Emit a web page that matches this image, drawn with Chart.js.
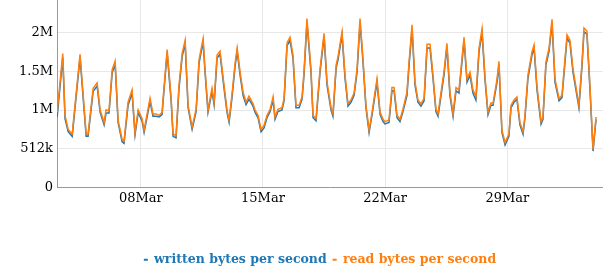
<!DOCTYPE html>
<html><head><meta charset="utf-8">
<script src="https://cdn.jsdelivr.net/npm/chart.js@4/dist/chart.umd.min.js"></script>
<style>html,body{margin:0;padding:0;background:#fff;} canvas{display:block;}</style>
</head><body>
<canvas id="c" width="603" height="270"></canvas>
<script>
// time of each sample, in days of March (fractional)
const times = [3.21,3.53,3.66,3.84,4.07,4.52,4.87,4.98,5.27,5.50,5.67,5.90,6.01,6.18,6.36,6.53,6.70,6.93,7.04,7.27,7.50,7.67,7.85,8.07,8.19,8.53,8.70,8.88,9.05,9.22,9.28,9.51,9.74,9.85,10.02,10.19,10.37,10.54,10.71,10.94,11.17,11.34,11.57,11.68,11.85,12.08,12.20,12.37,12.54,12.77,12.94,13.06,13.23,13.40,13.52,13.69,13.86,14.03,14.20,14.43,14.55,14.72,14.89,15.06,15.23,15.41,15.58,15.69,15.86,16.09,16.21,16.38,16.55,16.72,16.89,17.07,17.24,17.35,17.52,17.75,17.87,18.04,18.27,18.50,18.67,18.90,19.01,19.19,19.30,19.53,19.70,19.87,20.04,20.22,20.39,20.56,20.73,20.90,21.08,21.25,21.53,21.71,21.88,21.99,22.22,22.39,22.51,22.68,22.85,23.02,23.25,23.37,23.54,23.71,23.88,24.05,24.23,24.40,24.57,24.74,24.91,25.03,25.26,25.37,25.54,25.71,25.89,26.06,26.23,26.40,26.52,26.69,26.86,27.03,27.20,27.38,27.55,27.72,27.89,28.06,28.18,28.41,28.52,28.69,28.87,29.09,29.21,29.38,29.55,29.72,29.90,30.01,30.18,30.41,30.53,30.70,30.93,31.04,31.21,31.39,31.56,31.73,31.96,32.13,32.24,32.42,32.59,32.76,32.93,33.10,33.28,33.39,33.56,33.73,33.91,34.08];
// values in MiB per second
const readBps = [0.97,1.73,0.93,0.75,0.69,1.72,0.69,0.69,1.28,1.35,1.0,0.84,1.0,0.99,1.52,1.63,0.87,0.62,0.6,1.1,1.26,0.71,1.0,0.89,0.74,1.15,0.95,0.95,0.93,0.97,1.15,1.78,1.15,0.69,0.67,1.32,1.73,1.9,1.06,0.78,1.01,1.65,1.92,1.53,1.0,1.28,1.1,1.71,1.76,1.32,1.0,0.87,1.21,1.6,1.8,1.49,1.23,1.1,1.18,1.08,1.0,0.93,0.75,0.8,0.93,1.01,1.17,0.91,1.01,1.03,1.15,1.87,1.94,1.71,1.06,1.06,1.17,1.49,2.18,1.53,0.93,0.89,1.53,1.99,1.36,1.03,0.95,1.58,1.69,2.01,1.45,1.08,1.13,1.22,1.53,2.18,1.66,1.06,0.74,0.97,1.4,0.97,0.88,0.85,0.87,1.29,1.29,0.93,0.88,1.01,1.23,1.62,2.1,1.36,1.13,1.08,1.15,1.85,1.85,1.45,1.01,0.95,1.32,1.49,1.86,1.23,0.95,1.29,1.26,1.66,1.94,1.4,1.49,1.26,1.17,1.8,2.05,1.43,0.97,1.09,1.09,1.4,1.63,0.74,0.58,0.69,1.06,1.13,1.17,0.84,0.72,0.93,1.45,1.75,1.84,1.3,0.85,0.91,1.62,1.8,2.17,1.4,1.15,1.19,1.49,1.97,1.9,1.53,1.3,1.06,1.62,2.06,2.02,1.32,0.49,0.91];
const writtenBps = [0.91,1.68,0.89,0.72,0.66,1.68,0.66,0.66,1.24,1.31,0.97,0.81,0.96,0.96,1.48,1.59,0.84,0.59,0.57,1.06,1.22,0.68,0.97,0.86,0.71,1.11,0.92,0.92,0.91,0.94,1.12,1.74,1.11,0.66,0.64,1.28,1.69,1.86,1.03,0.75,0.98,1.61,1.88,1.49,0.97,1.24,1.07,1.67,1.72,1.28,0.97,0.84,1.17,1.56,1.76,1.45,1.19,1.07,1.14,1.05,0.97,0.9,0.72,0.77,0.9,0.98,1.13,0.88,0.98,1.0,1.12,1.83,1.9,1.67,1.03,1.03,1.14,1.45,2.13,1.49,0.9,0.86,1.49,1.95,1.32,1.0,0.92,1.54,1.65,1.97,1.41,1.05,1.1,1.19,1.49,2.13,1.62,1.03,0.71,0.94,1.36,0.94,0.85,0.82,0.84,1.25,1.25,0.9,0.85,0.98,1.19,1.58,2.05,1.32,1.1,1.05,1.12,1.8,1.8,1.41,0.98,0.92,1.28,1.45,1.82,1.19,0.92,1.25,1.22,1.62,1.9,1.36,1.45,1.22,1.13,1.76,2.0,1.39,0.94,1.06,1.06,1.36,1.59,0.71,0.55,0.66,1.03,1.1,1.14,0.81,0.69,0.9,1.41,1.71,1.8,1.26,0.82,0.88,1.58,1.76,2.12,1.36,1.12,1.16,1.45,1.93,1.86,1.49,1.26,1.03,1.58,2.01,1.98,1.28,0.47,0.88];
const xTickDays = [8,15,22,29];
const xTickLabels = ["08Mar","15Mar","22Mar","29Mar"];
const yTickValues = [0,0.5,1,1.5,2];
const yTickLabels = ["0","512k","1M","1.5M","2M"];
const seriesNames = ["written bytes per second","read bytes per second"];
const colors = ["#1f77b4","#ff7f0e"];

const toPts = arr => arr.map((v,i)=>({x:times[i], y:v}));
const tickFont = {family:'DejaVu Serif', size:13};
const legendShift = {id:'legendShift', afterLayout(chart){ const l = chart.legend; if(l){ l.left -= 10; l.right -= 10; } }};
new Chart(document.getElementById('c'), {
  type:'line',
  data:{datasets:[
    {label:seriesNames[0], data:toPts(writtenBps), borderColor:colors[0], backgroundColor:colors[0], borderWidth:1.5, pointRadius:0, order:1, tension:0},
    {label:seriesNames[1], data:toPts(readBps), borderColor:colors[1], backgroundColor:colors[1], borderWidth:1.5, pointRadius:0, order:0, tension:0}
  ]},
  plugins:[legendShift],
  options:{
    responsive:false, animation:false, devicePixelRatio:1,
    layout:{padding:{top:0,right:0,bottom:-6,left:0}},
    plugins:{
      tooltip:{enabled:false},
      legend:{position:'bottom', fullSize:false, labels:{
        font:{family:'DejaVu Serif', size:12.5, weight:'bold'},
        boxWidth:4, boxHeight:2, padding:6,
        generateLabels: chart => seriesNames.map((n,i)=>({text:n, fillStyle:colors[i], strokeStyle:colors[i], lineWidth:0, fontColor:colors[i], datasetIndex:i, hidden:false}))
      }}
    },
    scales:{
      x:{type:'linear', min:3.2, max:34.48,
        afterBuildTicks: s => { s.ticks = xTickDays.map(v=>({value:v})); },
        afterFit: s => { s.height = 60; s.paddingLeft = 0; s.paddingRight = 0; },
        ticks:{callback:(v,i)=> xTickLabels[i], font:tickFont, color:'#000', maxRotation:0, autoSkip:false, padding:3},
        grid:{color:'#e8e8e8', drawTicks:false},
        border:{color:'#999'}
      },
      y:{min:0, max:2.42,
        afterBuildTicks: s => { s.ticks = yTickValues.map(v=>({value:v})); },
        afterFit: s => { s.width = 57; s.paddingTop = 0; s.paddingBottom = 0; },
        ticks:{callback:(v,i)=> yTickLabels[i], font:tickFont, color:'#000', padding:4},
        grid:{color:'#e8e8e8', drawTicks:false},
        border:{color:'#999'}
      }
    }
  }
});
</script>
</body></html>
